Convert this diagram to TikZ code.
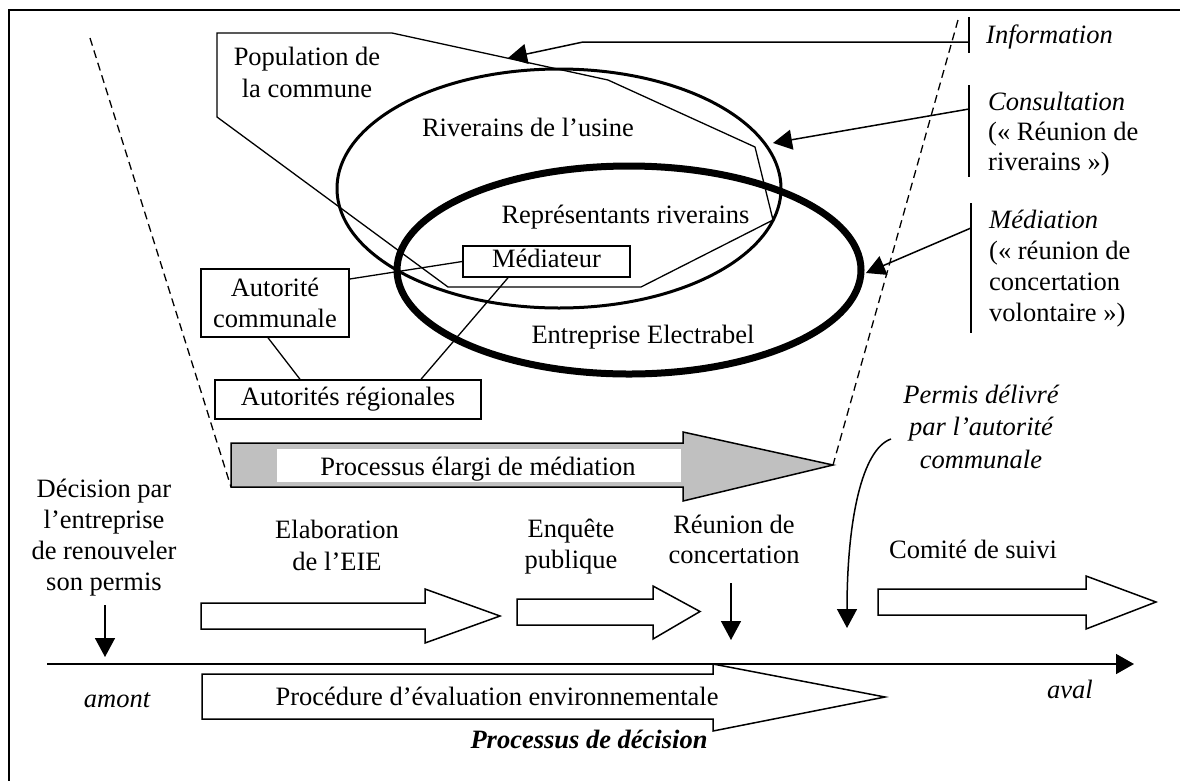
\documentclass[tikz,border=0pt]{standalone}
\usepackage{fontspec}
\setmainfont{Liberation Serif}
\usetikzlibrary{arrows.meta,shapes.geometric}
\definecolor{grayfill}{RGB}{192,192,192}
\newcommand\dfont{\fontsize{26.5}{31}\selectfont}
\begin{document}
\begin{tikzpicture}[x=1pt,y=-1pt,
  every node/.style={font=\dfont, inner sep=0pt},
  thinline/.style={line width=1.3pt},
  arr/.style={line width=1.5pt,-{Triangle[length=19pt,width=20pt]}},
  box/.style={draw, line width=1.5pt, fill=white},
  onetext/.style={text height=18.5pt, text depth=6.6pt},
  blockarrow/.style={draw, line width=1.5pt, fill=white},
  sidebar/.style={line width=1.8pt},
  funnel/.style={line width=1.3pt, dash pattern=on 8pt off 5pt},
  lbl/.style={anchor=base, align=center},
  ital/.style={font=\dfont\itshape}]
\useasboundingbox (0,0) rectangle (1180,780);
\clip (0,0) rectangle (1180,780);
% frame
\draw[line width=2pt] (9,800) -- (9,10) -- (1200,10);

% funnel (dashed)
\coordinate (gbl) at (231,487);
\coordinate (gtip) at (833,465);
\coordinate (ftl) at (90,38);
\coordinate (ftr) at (958,20);
\draw[funnel] (ftl) -- (gbl);
\draw[funnel] (ftr) -- (gtip);

% population polygon
\draw[thinline] (217,33) -- (392,33) -- (608,80) -- (755,147) -- (773,220) -- (641,287) -- (448,287) -- (217,117) -- cycle;
\node[lbl, font=\fontsize{26.5}{32}\selectfont] (pop) at (307,97) {Population de\\la commune};

% ellipses
\node[draw, ellipse, line width=3pt, minimum width=444pt, minimum height=239pt] (riv) at (559,188.5) {};
\node[draw, ellipse, line width=7pt, minimum width=464pt, minimum height=208pt] (ent) at (629,270) {};
\node[lbl] (triv) at (528,136) {Riverains de l’usine};
\node[lbl] (trep) at (625.5,223) {Représentants riverains};
\node[lbl] (tent) at (643,343) {Entreprise Electrabel};

% boxes
\node[box, onetext, minimum width=167pt, minimum height=31pt] (med) at (546.5,261.5) {Médiateur};
\node[box, align=center, minimum width=148pt, minimum height=68pt] (ac) at (275,303) {Autorité\\communale};
\node[box, onetext, minimum width=266pt, minimum height=39pt] (ar) at (348,399.5) {Autorités régionales};
\draw[thinline] ([yshift=24pt]ac.east) -- (med.west);
\draw[thinline] ([xshift=-7pt]ac.south) -- ([xshift=-48pt]ar.north);
\draw[thinline] ([xshift=-38.5pt]med.south) -- ([xshift=73pt]ar.north);

% right side levels
\draw[sidebar] (969,17) -- (969,53);
\draw[sidebar] (969,85) -- (969,177);
\draw[sidebar] (971,203) -- (971,333);
\coordinate (binfo) at (969,42);
\coordinate (infobend) at (583,42);
\coordinate (infotip) at (508,58);
\coordinate (bcons) at (969,109);
\coordinate (constip) at (773,143);
\coordinate (bmed) at (971,228);
\coordinate (medtip) at (866,273);
\draw[arr] (binfo) -- (infobend) -- (infotip);
\draw[arr] (bcons) -- (constip);
\draw[arr] (bmed) -- (medtip);
\node[anchor=base west, ital] (tinfo) at (986,43) {Information};
\node[anchor=base west, align=left, font=\fontsize{26.5}{30}\selectfont] (tcons) at (988,170) {\textit{Consultation}\\(« Réunion de\\riverains »)};
\node[anchor=base west, align=left] (tmedi) at (989,321) {\textit{Médiation}\\(« réunion de\\concertation\\volontaire »)};

% gray arrow
\draw[line width=1.5pt, fill=grayfill] (gbl) -- (231,443) -- (683,443) -- (683,432) -- (gtip) -- (683,501) -- (683,487) -- cycle;
\fill[white] (277,449) rectangle (681,482);
\node[lbl] (tproc) at (478,475) {Processus élargi de médiation};

% stage arrows
\draw[blockarrow] (201,603) -- (425,603) -- (425,589) -- (500,616) -- (425,643) -- (425,629) -- (201,629) -- cycle;
\draw[blockarrow] (517,599) -- (653,599) -- (653,586) -- (700,611.5) -- (653,639) -- (653,625) -- (517,625) -- cycle;
\draw[blockarrow] (878,589) -- (1086,589) -- (1086,576) -- (1156,602) -- (1086,629) -- (1086,615) -- (878,615) -- cycle;
\draw[blockarrow] (202,674) -- (713,674) -- (713,664) -- (885,697) -- (713,731) -- (713,719) -- (202,719) -- cycle;

\node[lbl] (tdec) at (104,590) {Décision par\\l’entreprise\\de renouveler\\son permis};
\node[lbl, font=\fontsize{26.5}{32}\selectfont] (telab) at (337,570) {Elaboration\\de l’EIE};
\node[lbl] (tenq) at (571,568) {Enquête\\publique};
\node[lbl, font=\fontsize{26.5}{30}\selectfont] (treu) at (734,563) {Réunion de\\concertation};
\node[lbl, font=\fontsize{26.5}{32.5}\selectfont\itshape] (tperm) at (981,468) {Permis délivré\\par l’autorité\\communale};
\node[lbl] (tcom) at (973,558) {Comité de suivi};
\node[lbl] (tproce) at (497,705) {Procédure d’évaluation environnementale};
\node[lbl, font=\dfont\bfseries\itshape] (tpd) at (589,748) {Processus de décision};
\node[lbl, ital] (tamont) at (117,707) {amont};
\node[lbl, ital] (taval) at (1070,698) {aval};

% small arrows
\coordinate (decs) at (105,605);
\coordinate (dece) at (105,657);
\coordinate (reus) at (731,583);
\coordinate (reue) at (731,640);
\coordinate (perms) at (891,439);
\coordinate (perme) at (847,628);
\draw[arr] (decs) -- (dece);
\draw[arr] (reus) -- (reue);
\draw[arr] (perms) .. controls (862,449) and (847,520) .. (perme);

% time axis
\coordinate (axs) at (47,664);
\coordinate (axe) at (1134,664);
\draw[line width=1.5pt, -{Triangle[length=18pt,width=20pt]}] (axs) -- (axe);
\end{tikzpicture}
\end{document}
